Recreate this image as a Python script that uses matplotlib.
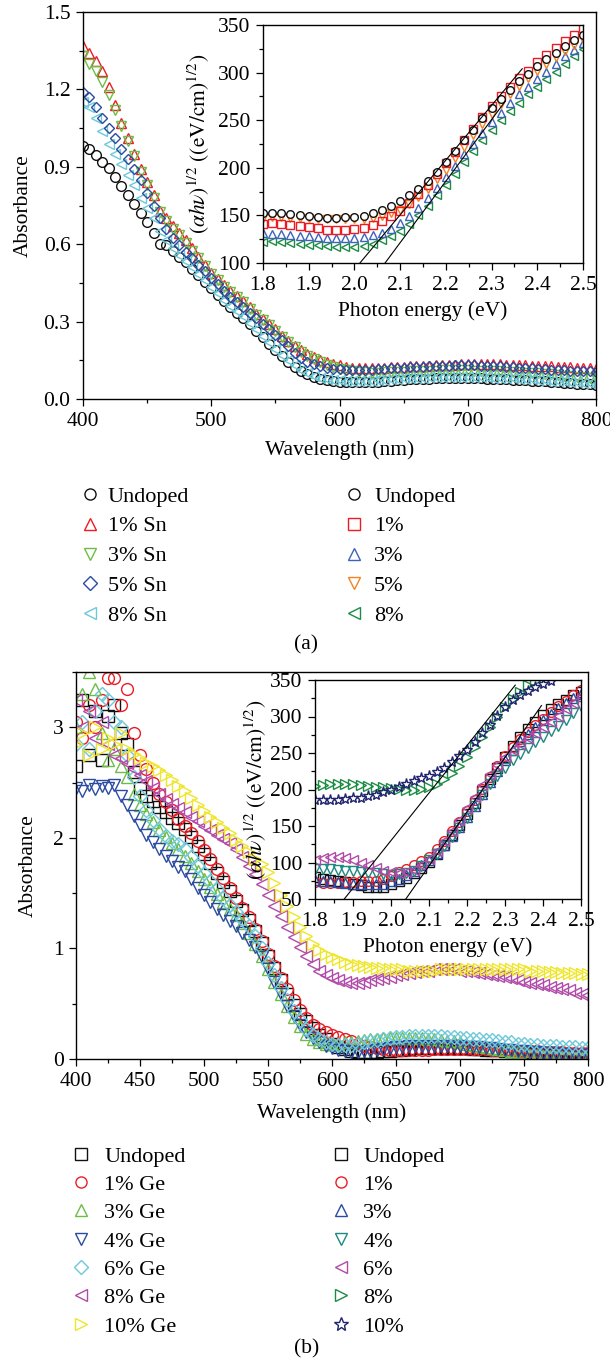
import numpy as np
import matplotlib
matplotlib.use('Agg')
import matplotlib.pyplot as plt
from matplotlib.lines import Line2D
from matplotlib.ticker import MultipleLocator

plt.rcParams['font.family'] = ['Liberation Serif', 'DejaVu Serif']
plt.rcParams['mathtext.fontset'] = 'stix'

# ---------------- data: panel (a) main (Sn doped) ----------------
wl = np.arange(400, 801, 5)

undoped_a = [0.98, 0.97, 0.945, 0.92, 0.895, 0.86, 0.825, 0.79, 0.755, 0.72,
             0.685, 0.645, 0.60, 0.595, 0.575, 0.55, 0.53, 0.505, 0.48, 0.455,
             0.43, 0.405, 0.38, 0.355, 0.335, 0.315, 0.29, 0.265, 0.24, 0.215,
             0.19, 0.165, 0.145, 0.125, 0.108, 0.095, 0.085, 0.078, 0.073, 0.069,
             0.067, 0.065, 0.064, 0.064, 0.065, 0.066, 0.067, 0.069, 0.071, 0.073,
             0.075, 0.076, 0.077, 0.078, 0.079, 0.08, 0.08, 0.081, 0.081, 0.081,
             0.081, 0.08, 0.08, 0.079, 0.078, 0.077, 0.076, 0.075, 0.074, 0.072,
             0.071, 0.069, 0.068, 0.066, 0.065, 0.063, 0.061, 0.06, 0.058, 0.057,
             0.055]
sn1 = [1.37, 1.34, 1.31, 1.27, 1.21, 1.14, 1.07, 1.01, 0.95, 0.89,
       0.84, 0.79, 0.73, 0.70, 0.67, 0.645, 0.615, 0.585, 0.55, 0.52,
       0.49, 0.465, 0.44, 0.42, 0.40, 0.38, 0.355, 0.33, 0.31, 0.29,
       0.27, 0.245, 0.225, 0.205, 0.19, 0.175, 0.163, 0.152, 0.142, 0.135,
       0.13, 0.125, 0.122, 0.12, 0.12, 0.12, 0.121, 0.122, 0.123, 0.124,
       0.125, 0.126, 0.127, 0.128, 0.129, 0.13, 0.131, 0.132, 0.133, 0.134,
       0.135, 0.135, 0.135, 0.135, 0.134, 0.134, 0.133, 0.132, 0.131, 0.13,
       0.129, 0.128, 0.127, 0.126, 0.125, 0.124, 0.123, 0.122, 0.121, 0.12,
       0.118]
sn3 = [1.33, 1.30, 1.27, 1.23, 1.18, 1.12, 1.06, 1.00, 0.94, 0.88,
       0.83, 0.78, 0.725, 0.69, 0.66, 0.635, 0.605, 0.575, 0.545, 0.515,
       0.485, 0.46, 0.435, 0.415, 0.395, 0.375, 0.35, 0.325, 0.305, 0.285,
       0.265, 0.24, 0.22, 0.20, 0.183, 0.168, 0.155, 0.143, 0.133, 0.125,
       0.118, 0.112, 0.108, 0.105, 0.103, 0.102, 0.102, 0.103, 0.104, 0.105,
       0.106, 0.107, 0.108, 0.109, 0.11, 0.11, 0.111, 0.111, 0.111, 0.111,
       0.111, 0.11, 0.11, 0.109, 0.108, 0.107, 0.106, 0.105, 0.104, 0.102,
       0.101, 0.099, 0.097, 0.095, 0.093, 0.091, 0.089, 0.087, 0.085, 0.083,
       0.08]
sn5 = [1.19, 1.17, 1.13, 1.09, 1.05, 1.01, 0.97, 0.93, 0.89, 0.85,
       0.80, 0.75, 0.70, 0.66, 0.625, 0.595, 0.57, 0.545, 0.52, 0.495,
       0.47, 0.445, 0.42, 0.395, 0.375, 0.355, 0.335, 0.315, 0.29, 0.27,
       0.25, 0.228, 0.205, 0.18, 0.16, 0.145, 0.135, 0.128, 0.122, 0.118,
       0.115, 0.113, 0.112, 0.112, 0.113, 0.114, 0.115, 0.117, 0.119, 0.12,
       0.122, 0.123, 0.124, 0.125, 0.126, 0.127, 0.128, 0.129, 0.13, 0.13,
       0.13, 0.13, 0.129, 0.128, 0.127, 0.126, 0.125, 0.124, 0.122, 0.12,
       0.119, 0.117, 0.116, 0.114, 0.113, 0.111, 0.11, 0.109, 0.108, 0.107,
       0.105]
sn8 = [1.15, 1.13, 1.09, 1.04, 0.99, 0.95, 0.91, 0.87, 0.83, 0.78,
       0.74, 0.70, 0.65, 0.615, 0.585, 0.56, 0.535, 0.51, 0.485, 0.46,
       0.435, 0.41, 0.385, 0.36, 0.34, 0.32, 0.295, 0.27, 0.245, 0.22,
       0.195, 0.17, 0.15, 0.13, 0.113, 0.10, 0.09, 0.083, 0.078, 0.074,
       0.072, 0.07, 0.069, 0.069, 0.07, 0.071, 0.072, 0.074, 0.076, 0.078,
       0.08, 0.081, 0.082, 0.083, 0.084, 0.085, 0.085, 0.086, 0.086, 0.086,
       0.086, 0.085, 0.085, 0.084, 0.083, 0.082, 0.081, 0.08, 0.079, 0.077,
       0.076, 0.074, 0.073, 0.071, 0.07, 0.068, 0.066, 0.065, 0.063, 0.062,
       0.06]

# ---------------- data: panel (a) inset ----------------
E = np.round(np.arange(1.80, 2.501, 0.02), 2)
ia_undoped = [152, 153, 152, 151, 150, 149, 148, 147, 147, 148, 148, 149, 152, 156, 160, 165, 171, 178,
              186, 196, 206, 218, 229, 240, 252, 263, 272, 282, 291, 299, 307, 314, 321, 328, 334, 340]
ia_1 = [141, 142, 141, 140, 139, 138, 137, 135, 135, 135, 136, 137, 140, 144, 149, 155, 163, 172,
        182, 193, 205, 217, 229, 241, 253, 265, 275, 285, 294, 302, 311, 318, 326, 333, 340, 347]
ia_3 = [131, 130, 130, 129, 128, 128, 127, 126, 126, 126, 126, 127, 129, 132, 136, 142, 149, 158,
        168, 179, 190, 202, 214, 225, 237, 248, 258, 268, 277, 285, 293, 301, 309, 317, 324, 331]
ia_5 = [147, 148, 148, 147, 147, 147, 146, 146, 146, 146, 146, 146, 147, 149, 152, 156, 162, 169,
        178, 188, 198, 210, 222, 234, 246, 257, 267, 277, 286, 294, 302, 309, 316, 323, 329, 335]
ia_8 = [122, 123, 122, 121, 120, 119, 119, 118, 117, 117, 117, 118, 120, 124, 128, 134, 141, 150,
        160, 171, 182, 194, 206, 218, 229, 240, 250, 260, 268, 277, 285, 293, 301, 309, 317, 325]
fit_a1_E, fit_a1_v = [2.012, 2.367], [100, 304]
fit_a2_E, fit_a2_v = [2.067, 2.33], [100, 270]

# ---------------- data: panel (b) main (Ge doped) ----------------
undoped_b = [2.65, 3.25, 2.75, 3.15, 2.70, 3.10, 3.20, 2.95, 2.85, 2.60,
             2.45, 2.38, 2.33, 2.28, 2.23, 2.18, 2.13, 2.08, 2.01, 1.93,
             1.85, 1.77, 1.68, 1.60, 1.52, 1.43, 1.35, 1.26, 1.16, 1.05,
             0.93, 0.82, 0.71, 0.59, 0.49, 0.41, 0.34, 0.28, 0.22, 0.18,
             0.14, 0.11, 0.09, 0.07, 0.065, 0.06, 0.06, 0.065, 0.07, 0.075,
             0.08, 0.085, 0.09, 0.095, 0.10, 0.10, 0.10, 0.10, 0.10, 0.10,
             0.095, 0.095, 0.09, 0.09, 0.085, 0.08, 0.08, 0.075, 0.07, 0.065,
             0.06, 0.055, 0.055, 0.05, 0.05, 0.045, 0.045, 0.04, 0.04, 0.035,
             0.035]
ge1 = [3.05, 2.90, 3.20, 3.00, 3.25, 3.45, 3.45, 3.20, 3.35, 2.95,
       2.75, 2.62, 2.50, 2.40, 2.32, 2.25, 2.17, 2.11, 2.04, 1.97,
       1.89, 1.81, 1.72, 1.64, 1.55, 1.46, 1.37, 1.28, 1.18, 1.07,
       0.95, 0.84, 0.73, 0.63, 0.53, 0.44, 0.37, 0.31, 0.27, 0.24,
       0.22, 0.20, 0.18, 0.16, 0.14, 0.12, 0.11, 0.10, 0.09, 0.085,
       0.08, 0.08, 0.08, 0.08, 0.085, 0.085, 0.09, 0.09, 0.09, 0.09,
       0.09, 0.09, 0.09, 0.09, 0.09, 0.085, 0.085, 0.08, 0.08, 0.075,
       0.075, 0.07, 0.07, 0.065, 0.065, 0.06, 0.06, 0.055, 0.055, 0.05,
       0.05]
ge3 = [3.00, 3.30, 3.50, 3.35, 2.95, 2.70, 2.80, 2.65, 2.55, 2.40,
       2.30, 2.22, 2.14, 2.07, 2.01, 1.95, 1.90, 1.84, 1.77, 1.70,
       1.63, 1.56, 1.49, 1.42, 1.36, 1.30, 1.23, 1.14, 1.04, 0.93,
       0.81, 0.70, 0.59, 0.48, 0.38, 0.30, 0.23, 0.18, 0.15, 0.14,
       0.14, 0.14, 0.15, 0.15, 0.16, 0.17, 0.18, 0.18, 0.19, 0.19,
       0.19, 0.19, 0.19, 0.19, 0.19, 0.18, 0.18, 0.17, 0.16, 0.16,
       0.15, 0.14, 0.13, 0.12, 0.11, 0.10, 0.09, 0.08, 0.07, 0.06,
       0.05, 0.04, 0.04, 0.03, 0.03, 0.02, 0.02, 0.02, 0.01, 0.01,
       0.01]
ge4 = [2.45, 2.42, 2.48, 2.44, 2.47, 2.45, 2.48, 2.38, 2.30, 2.20,
       2.12, 2.03, 1.96, 1.90, 1.84, 1.79, 1.74, 1.70, 1.63, 1.55,
       1.48, 1.42, 1.36, 1.30, 1.25, 1.20, 1.14, 1.08, 1.01, 0.92,
       0.81, 0.70, 0.59, 0.48, 0.39, 0.31, 0.24, 0.19, 0.15, 0.12,
       0.10, 0.08, 0.07, 0.065, 0.065, 0.07, 0.075, 0.08, 0.09, 0.10,
       0.105, 0.11, 0.115, 0.12, 0.12, 0.12, 0.12, 0.12, 0.12, 0.12,
       0.115, 0.11, 0.11, 0.105, 0.10, 0.095, 0.09, 0.085, 0.08, 0.075,
       0.07, 0.065, 0.06, 0.055, 0.05, 0.05, 0.045, 0.04, 0.04, 0.035,
       0.035]
ge6 = [2.85, 3.05, 2.80, 3.15, 3.30, 3.25, 3.05, 3.00, 2.75, 2.55,
       2.38, 2.25, 2.16, 2.08, 2.02, 1.97, 1.94, 1.90, 1.83, 1.75,
       1.68, 1.61, 1.54, 1.46, 1.39, 1.33, 1.27, 1.20, 1.11, 1.00,
       0.87, 0.76, 0.64, 0.53, 0.43, 0.35, 0.27, 0.22, 0.18, 0.15,
       0.14, 0.13, 0.13, 0.13, 0.14, 0.15, 0.16, 0.17, 0.18, 0.19,
       0.20, 0.20, 0.21, 0.21, 0.21, 0.21, 0.21, 0.21, 0.20, 0.20,
       0.19, 0.19, 0.18, 0.18, 0.17, 0.17, 0.16, 0.15, 0.15, 0.14,
       0.14, 0.13, 0.13, 0.12, 0.12, 0.12, 0.11, 0.11, 0.11, 0.10,
       0.10]
ge8 = [3.25, 3.00, 3.15, 2.90, 3.05, 2.85, 2.75, 2.72, 2.68, 2.62,
       2.57, 2.51, 2.45, 2.40, 2.35, 2.31, 2.27, 2.23, 2.19, 2.15,
       2.11, 2.07, 2.03, 1.99, 1.95, 1.90, 1.83, 1.75, 1.67, 1.58,
       1.48, 1.38, 1.29, 1.19, 1.10, 1.01, 0.93, 0.86, 0.80, 0.76,
       0.73, 0.71, 0.70, 0.69, 0.69, 0.70, 0.71, 0.72, 0.73, 0.74,
       0.76, 0.77, 0.78, 0.79, 0.80, 0.80, 0.81, 0.81, 0.81, 0.81,
       0.80, 0.80, 0.79, 0.78, 0.77, 0.76, 0.75, 0.74, 0.73, 0.71,
       0.70, 0.69, 0.68, 0.67, 0.65, 0.64, 0.63, 0.62, 0.60, 0.59,
       0.58]
ge10 = [2.85, 2.95, 2.75, 3.00, 2.80, 2.90, 2.85, 2.95, 2.80, 2.76,
        2.72, 2.68, 2.65, 2.61, 2.57, 2.52, 2.47, 2.42, 2.36, 2.30,
        2.24, 2.19, 2.14, 2.09, 2.04, 1.98, 1.93, 1.87, 1.81, 1.76,
        1.69, 1.59, 1.48, 1.38, 1.28, 1.19, 1.11, 1.04, 0.99, 0.95,
        0.92, 0.90, 0.88, 0.86, 0.85, 0.84, 0.83, 0.82, 0.82, 0.81,
        0.81, 0.81, 0.80, 0.80, 0.80, 0.80, 0.80, 0.81, 0.81, 0.81,
        0.81, 0.81, 0.81, 0.81, 0.81, 0.81, 0.81, 0.81, 0.81, 0.81,
        0.81, 0.80, 0.80, 0.80, 0.79, 0.79, 0.78, 0.78, 0.78, 0.77,
        0.77]

# ---------------- data: panel (b) inset ----------------
nan = np.nan
ib_undoped = [80, 78, 76, 75, 73, 71, 69, 67, 66, 67, 70, 74, 79, 85, 92, 101, 112, 124,
              137, 151, 166, 182, 198, 214, 230, 245, 259, 272, 283, 293, 302, 310, 317, 323, 329, 334]
ib_1 = [73, 72, 72, 72, 73, 73, 74, 74, 75, 77, 82, 87, 91, 96, 102, 108, 118, 130,
        143, 156, 170, 185, 201, 217, 232, 246, 258, 269, 279, 288, 297, 306, 314, 321, 329, 336]
ib_3 = [76, 75, 74, 73, 72, 71, 70, 70, 70, 71, 74, 78, 83, 89, 96, 104, 113, 124,
        136, 149, 163, 178, 194, 210, 226, 241, 254, 266, 276, 286, 295, 303, 311, 318, 325, 331]
ib_4 = [91, 91, 91, 90, 89, 88, 87, 86, 85, 84, 83, 84, 86, 89, 95, 103, 112, 123,
        135, 147, 161, 177, 193, 207, 219, 230, 240, 249, 257, 265, 272, 280, 287, 295, 305, 314]
ib_6 = [104, 106, 107, 107, 106, 103, 100, 96, 92, 89, 87, 86, 87, 90, 96, 105, 116, 129,
        143, 158, 174, 190, 206, 221, 234, 245, 254, 262, 270, 278, 285, 293, 301, 310, 319, 328]
ib_8 = [205, 206, 207, 208, 208, 207, 206, 205, 204, 203, 202, 201, 200, 200, 201, 204, 208, 214,
        222, 232, 244, 258, 272, 286, 300, 313, 324, 334, 343, 349, nan, nan, nan, nan, nan, nan]
ib_10 = [185, 185, 186, 186, 187, 188, 189, 191, 193, 196, 200, 204, 208, 212, 216, 218, 224, 230,
         238, 246, 254, 265, 277, 289, 301, 313, 322, 329, 335, 340, 345, 349, nan, nan, nan, nan]
fit_b1_E, fit_b1_v = [1.877, 2.327], [50, 343]
fit_b2_E, fit_b2_v = [2.039, 2.396], [50, 315]

labels_a_main = ['Undoped', '1% Sn', '3% Sn', '5% Sn', '8% Sn']
labels_a_ins = ['Undoped', '1%', '3%', '5%', '8%']
labels_b_main = ['Undoped', '1% Ge', '3% Ge', '4% Ge', '6% Ge', '8% Ge', '10% Ge']
labels_b_ins = ['Undoped', '1%', '3%', '4%', '6%', '8%', '10%']

# ---------------- styles ----------------
BLACK = '#111111'
RED = '#ed1c24'
LGREEN = '#6cbd45'
BLUE = '#2b4ba0'
CYAN = '#6cc9d9'
ORANGE = '#f58220'
DGREEN = '#1c8c44'
IBLUE = '#3d63b8'
MAGENTA = '#b14aa8'
YELLOW = '#efe62a'
TEAL = '#1b8a80'
NAVY = '#20246e'

W, H = 610, 1363
fig = plt.figure(figsize=(W / 100, H / 100), dpi=100)


def fr(l, t, r, b):
    return [l / W, 1 - b / H, (r - l) / W, (b - t) / H]


FS = 15.5


def style(ax):
    ax.tick_params(which='both', direction='out', labelsize=FS, top=False, right=False)
    ax.tick_params(which='major', length=5, width=0.9, pad=4)
    ax.tick_params(which='minor', length=3, width=0.9)
    for s in ax.spines.values():
        s.set_linewidth(1.0)


def pts(ax, x, y, m, c, ms, mfc='none', mew=1.0):
    return ax.plot(x, y, ls='none', marker=m, ms=ms, mfc=mfc, mec=c, mew=mew)[0]


# ---------------- panel (a) ----------------
axA = fig.add_axes(fr(83, 12, 596, 399))
style(axA)
specA = [(undoped_a, 'o', BLACK), (sn1, '^', RED), (sn3, 'v', LGREEN), (sn8, '<', CYAN), (sn5, 'D', BLUE)]
for y, m, c in specA:
    pts(axA, wl, y, m, c, 7 if m != 'D' else 5.5)
axA.set_xlim(400, 800)
axA.set_ylim(0, 1.5)
axA.xaxis.set_major_locator(MultipleLocator(100))
axA.xaxis.set_minor_locator(MultipleLocator(50))
axA.yaxis.set_major_locator(MultipleLocator(0.3))
axA.yaxis.set_minor_locator(MultipleLocator(0.15))
axA.yaxis.set_major_formatter(matplotlib.ticker.FormatStrFormatter('%.1f'))
axA.set_xlabel('Wavelength (nm)', fontsize=FS, labelpad=7)
axA.set_ylabel('Absorbance', fontsize=FS, labelpad=8)

insA = fig.add_axes(fr(263, 25, 583, 263))
style(insA)
for y, m, c, fc in [(ia_8, '<', DGREEN, 'none'), (ia_3, '^', IBLUE, 'none'), (ia_5, 'v', ORANGE, 'none'),
                    (ia_1, 's', RED, 'none'), (ia_undoped, 'o', BLACK, 'white')]:
    pts(insA, E, y, m, c, 5.5, mfc=fc)
insA.plot(fit_a1_E, fit_a1_v, color='k', lw=0.8)
insA.plot(fit_a2_E, fit_a2_v, color='k', lw=0.8)
insA.set_xlim(1.8, 2.5)
insA.set_ylim(100, 350)
insA.xaxis.set_major_locator(MultipleLocator(0.1))
insA.xaxis.set_minor_locator(MultipleLocator(0.05))
insA.yaxis.set_major_locator(MultipleLocator(50))
insA.yaxis.set_minor_locator(MultipleLocator(25))
insA.set_xlabel('Photon energy (eV)', fontsize=FS, labelpad=5)
insA.set_ylabel(r'$(\alpha h\nu)^{1/2}\ ((\mathrm{eV/cm})^{1/2})$', fontsize=FS, labelpad=4)

# ---------------- panel (b) ----------------
axB = fig.add_axes(fr(76, 672, 588, 1059))
style(axB)
specB = [(undoped_b, 's', BLACK), (ge1, 'o', RED), (ge3, '^', LGREEN), (ge4, 'v', BLUE),
         (ge6, 'D', CYAN), (ge8, '<', MAGENTA), (ge10, '>', YELLOW)]
for y, m, c in specB:
    pts(axB, wl, y, m, c, 8.5 if m != 'D' else 7)
axB.set_xlim(400, 800)
axB.set_ylim(0, 3.5)
axB.xaxis.set_major_locator(MultipleLocator(50))
axB.xaxis.set_minor_locator(MultipleLocator(25))
axB.yaxis.set_major_locator(MultipleLocator(1))
axB.yaxis.set_minor_locator(MultipleLocator(0.5))
axB.set_xlabel('Wavelength (nm)', fontsize=FS, labelpad=9)
axB.set_ylabel('Absorbance', fontsize=FS, labelpad=11)

insB = fig.add_axes(fr(315, 680, 581, 899))
style(insB)
for y, m, c in [(ib_undoped, 's', BLACK), (ib_1, 'o', RED), (ib_3, '^', BLUE), (ib_4, 'v', TEAL),
                (ib_6, '<', MAGENTA), (ib_8, '>', DGREEN), (ib_10, '*', NAVY)]:
    pts(insB, E, y, m, c, 7 if m != '*' else 8)
insB.plot(fit_b1_E, fit_b1_v, color='k', lw=0.8)
insB.plot(fit_b2_E, fit_b2_v, color='k', lw=0.8)
insB.set_xlim(1.8, 2.5)
insB.set_ylim(50, 350)
insB.xaxis.set_major_locator(MultipleLocator(0.1))
insB.xaxis.set_minor_locator(MultipleLocator(0.05))
insB.yaxis.set_major_locator(MultipleLocator(50))
insB.yaxis.set_minor_locator(MultipleLocator(25))
insB.set_xlabel('Photon energy (eV)', fontsize=FS, labelpad=5)
insB.set_ylabel(r'$(\alpha h\nu)^{1/2}\ ((\mathrm{eV/cm})^{1/2})$', fontsize=FS, labelpad=1)


# ---------------- legends ----------------
def handles(specs):
    return [Line2D([], [], ls='none', marker=m, ms=(8 if m not in ('D', '*') else (7 if m == 'D' else 10)),
                   mfc='none', mec=c, mew=1.0) for m, c in specs]


LFS = 16
common = dict(loc='upper left', frameon=False, fontsize=LFS, borderpad=0, borderaxespad=0,
              handlelength=1.0, bbox_transform=fig.transFigure)

hA1 = handles([('o', BLACK), ('^', RED), ('v', LGREEN), ('D', BLUE), ('<', CYAN)])
hA2 = handles([('o', BLACK), ('s', RED), ('^', IBLUE), ('v', ORANGE), ('<', DGREEN)])
fig.legend(hA1, labels_a_main, bbox_to_anchor=(79 / W, 1 - 486 / H), handletextpad=0.3,
           labelspacing=0.42, **common)
fig.legend(hA2, labels_a_ins, bbox_to_anchor=(343 / W, 1 - 486 / H), handletextpad=0.4,
           labelspacing=0.42, **common)

hB1 = handles([('s', BLACK), ('o', RED), ('^', LGREEN), ('v', BLUE), ('D', CYAN), ('<', MAGENTA), ('>', YELLOW)])
hB2 = handles([('s', BLACK), ('o', RED), ('^', BLUE), ('v', TEAL), ('<', MAGENTA), ('>', DGREEN), ('*', NAVY)])
fig.legend(hB1, labels_b_main, bbox_to_anchor=(70 / W, 1 - 1146 / H), handletextpad=0.55,
           labelspacing=0.35, **common)
fig.legend(hB2, labels_b_ins, bbox_to_anchor=(330 / W, 1 - 1146 / H), handletextpad=0.5,
           labelspacing=0.35, **common)

fig.text(0.502, 1 - 645 / H, '(a)', ha='center', va='center', fontsize=FS)
fig.text(0.502, 1 - 1349 / H, '(b)', ha='center', va='center', fontsize=FS)

fig.savefig('out.png', dpi=100)
